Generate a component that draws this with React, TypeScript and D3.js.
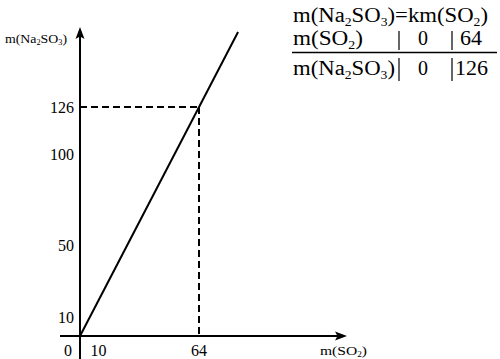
import React from "react";
import * as d3 from "d3";

// data
const yTicks = [10, 50, 100, 126];
const xTicks = [10, 64];
const lineXs = [0, 85];
const lineYs = [0, 167.3];
const guideX = 64;
const guideY = 126;
const tableSO2 = ["0", "64"];
const tableNa2SO3 = ["0", "126"];

type Seg = { t: string; sub?: boolean };
const NA2SO3: Seg[] = [{ t: "m(Na" }, { t: "2", sub: true }, { t: "SO" }, { t: "3", sub: true }, { t: ")" }];
const SO2: Seg[] = [{ t: "m(SO" }, { t: "2", sub: true }, { t: ")" }];
const EQ: Seg[] = [
  { t: "m(Na" }, { t: "2", sub: true }, { t: "SO" }, { t: "3", sub: true }, { t: ")=km(SO" }, { t: "2", sub: true }, { t: ")" },
];

const FONT = "'Liberation Serif', 'Times New Roman', serif";

function Chem({ segs, x, y, size, len, anchor = "start" }: { segs: Seg[]; x: number; y: number; size: number; len?: number; anchor?: string }) {
  const shift = size * 0.2;
  return (
    <text x={x} y={y} fontSize={size} fontFamily={FONT} textAnchor={anchor as any} fill="#000"
      textLength={len} lengthAdjust={len ? "spacingAndGlyphs" : undefined}>
      {segs.map((s, i) => {
        const prevSub = i > 0 && segs[i - 1].sub;
        const dy = s.sub ? shift : prevSub ? -shift : 0;
        return (
          <tspan key={i} dy={dy} fontSize={s.sub ? size * 0.6 : size}>{s.t}</tspan>
        );
      })}
    </text>
  );
}

export default function App() {
  const W = 500, H = 359;
  const x = d3.scaleLinear().domain([0, 64]).range([80, 199]);
  const y = d3.scaleLinear().domain([0, 126]).range([336, 107]);
  const x0 = x(0), y0 = y(0);
  const line = d3.line<number>().x((_, i) => x(lineXs[i])).y((d) => y(d));
  const yTop = 27, xRight = 347;
  const arrowUp = `M${x0},${yTop} L${x0 - 4.5},${yTop + 12} L${x0},${yTop + 9.5} L${x0 + 4.5},${yTop + 12} Z`;
  const arrowRight = `M${xRight},${y0} L${xRight - 12},${y0 - 4.5} L${xRight - 9.5},${y0} L${xRight - 12},${y0 + 4.5} Z`;
  const col1 = 399, col2 = 452;

  return (
    <svg width={W} height={H} style={{ position: "absolute", left: 0, top: 0, background: "#fff" }}>
      <rect width={W} height={H} fill="#fff" />
      {/* axes */}
      <line x1={x0} y1={359} x2={x0} y2={yTop + 6} stroke="#000" strokeWidth={2} />
      <path d={arrowUp} fill="#000" />
      <line x1={60} y1={y0} x2={xRight - 6} y2={y0} stroke="#000" strokeWidth={2} />
      <path d={arrowRight} fill="#000" />
      {/* guides */}
      <line x1={x0} y1={y(guideY)} x2={x(guideX)} y2={y(guideY)} stroke="#000" strokeWidth={2} strokeDasharray="7,4" />
      <line x1={x(guideX)} y1={y(guideY)} x2={x(guideX)} y2={y0} stroke="#000" strokeWidth={2} strokeDasharray="7,4" />
      {/* line */}
      <path d={line(lineYs) || ""} fill="none" stroke="#000" strokeWidth={2} />
      {/* tick labels */}
      {yTicks.map((t) => (
        <text key={t} x={74} y={y(t) + 5.5} fontSize={16} fontFamily={FONT} textAnchor="end">{t}</text>
      ))}
      <text x={x0 - 8} y={356} fontSize={16} fontFamily={FONT} textAnchor="end">0</text>
      {xTicks.map((t) => (
        <text key={t} x={x(t)} y={356} fontSize={16} fontFamily={FONT} textAnchor="middle">{t}</text>
      ))}
      {/* axis titles */}
      <Chem segs={NA2SO3} x={5} y={43} size={12} len={62} />
      <Chem segs={SO2} x={320} y={355} size={12} len={47} />
      {/* table */}
      <Chem segs={EQ} x={293} y={22} size={20} len={195} />
      <Chem segs={SO2} x={293} y={45} size={20} len={70} />
      <Chem segs={NA2SO3} x={293} y={75} size={20} len={102} />
      <line x1={292} y1={52.5} x2={497} y2={52.5} stroke="#000" strokeWidth={1.5} />
      <line x1={col1} y1={31} x2={col1} y2={50} stroke="#000" strokeWidth={1.2} />
      <line x1={col2} y1={31} x2={col2} y2={50} stroke="#000" strokeWidth={1.2} />
      <line x1={col1} y1={58} x2={col1} y2={81} stroke="#000" strokeWidth={1.2} />
      <line x1={col2} y1={58} x2={col2} y2={81} stroke="#000" strokeWidth={1.2} />
      <text x={423} y={45} fontSize={20} fontFamily={FONT} textAnchor="middle">{tableSO2[0]}</text>
      <text x={471} y={45} fontSize={20} fontFamily={FONT} textAnchor="middle" textLength={22} lengthAdjust="spacingAndGlyphs">{tableSO2[1]}</text>
      <text x={423} y={75} fontSize={20} fontFamily={FONT} textAnchor="middle">{tableNa2SO3[0]}</text>
      <text x={455} y={75} fontSize={20} fontFamily={FONT} textLength={33} lengthAdjust="spacingAndGlyphs">{tableNa2SO3[1]}</text>
    </svg>
  );
}
